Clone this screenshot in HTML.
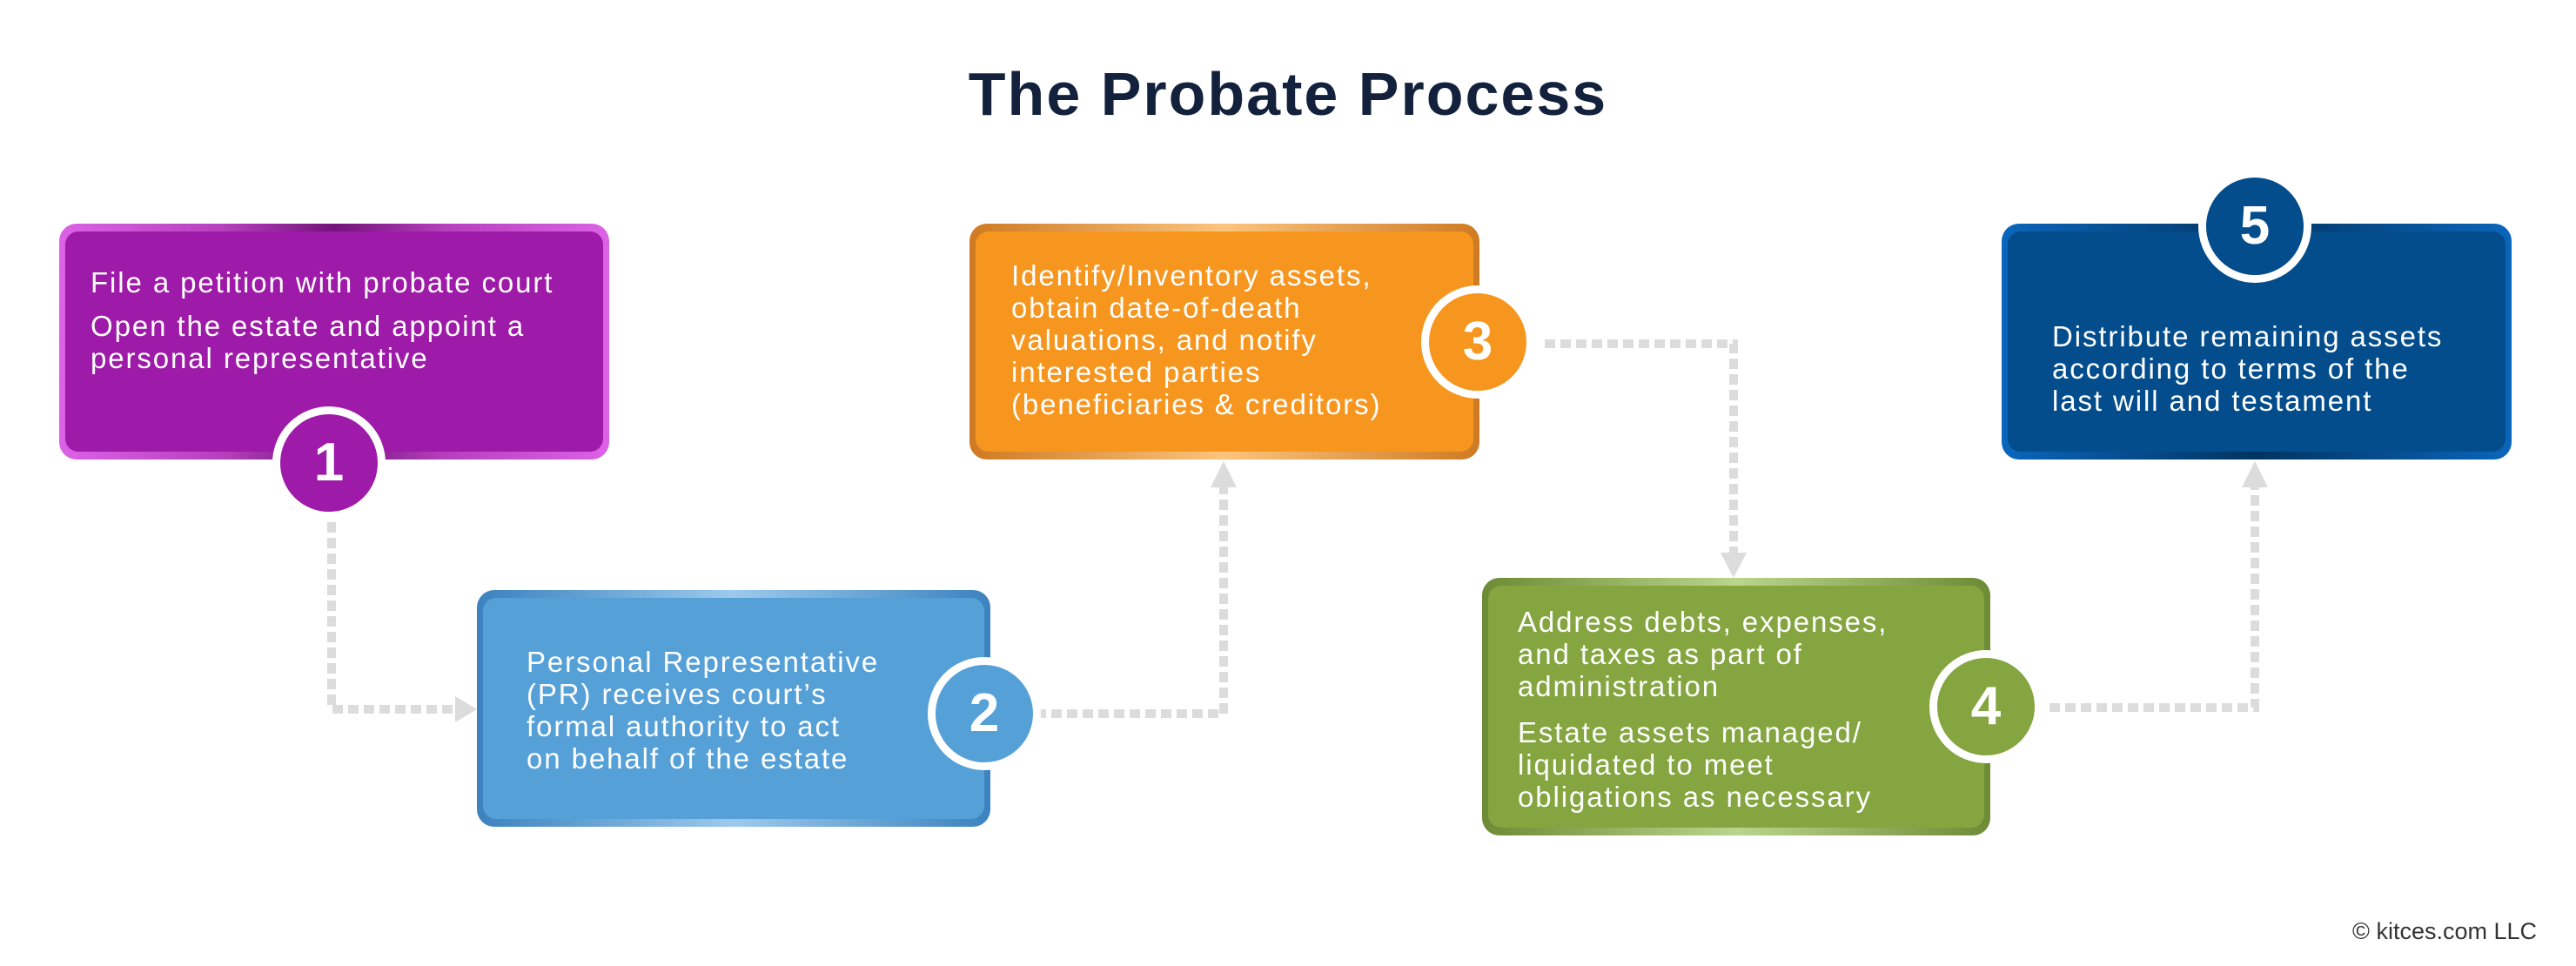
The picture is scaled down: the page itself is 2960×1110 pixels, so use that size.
<!DOCTYPE html>
<html><head><meta charset="utf-8"><style>
body{margin:0;width:2960px;height:1110px;background:#fff;position:relative;overflow:hidden;font-family:"Liberation Sans",sans-serif;}
.abs{position:absolute;}
.box{position:absolute;border-radius:20px;}
.inner{position:absolute;left:7px;right:7px;top:9px;bottom:9px;border-radius:15px;}
.t{position:absolute;color:#fff;font-size:33px;line-height:37px;letter-spacing:1.9px;white-space:nowrap;}
.c{position:absolute;width:112px;height:112px;border-radius:50%;border:9px solid #fff;color:#fff;font-weight:bold;font-size:62px;text-align:center;line-height:112px;}
</style></head><body>
<div class="abs" style="left:0;width:2960px;top:68px;text-align:center;font-size:70px;font-weight:bold;color:#13213c;letter-spacing:2px;">The Probate Process</div>

<svg class="abs" style="left:0;top:0" width="2960" height="1110">
<g stroke="#dcdcdc" stroke-width="10" fill="none" stroke-dasharray="12 6">
<path d="M381 600 V815 H525"/>
<path d="M1190 820 H1406 V560"/>
<path d="M1775 395 H1992 V635"/>
<path d="M2355 813 H2591 V560"/>
</g>
<g fill="#dcdcdc">
<polygon points="523,800 548,815 523,830"/>
<polygon points="1391,560 1421,560 1406,530"/>
<polygon points="1977,635 2007,635 1992,664"/>
<polygon points="2576,560 2606,560 2591,530"/>
</g>
</svg>

<div class="box" style="left:68px;top:257px;width:632px;height:271px;background:linear-gradient(90deg,#dc62e6,#b540bd 30%,#74117a 50%,#b540bd 70%,#dc62e6)">
<div class="inner" style="background:#9e1aa8"></div></div>
<div class="t" style="left:104px;top:306px;">File a petition with probate court</div>
<div class="t" style="left:104px;top:356px;">Open the estate and appoint a<br>personal representative</div>

<div class="box" style="left:548px;top:678px;width:590px;height:272px;background:linear-gradient(90deg,#3b82bf,#9ccaec 50%,#3b82bf)">
<div class="inner" style="background:#56a0d8"></div></div>
<div class="t" style="left:605px;top:742px;">Personal Representative<br>(PR) receives court’s<br>formal authority to act<br>on behalf of the estate</div>

<div class="box" style="left:1114px;top:257px;width:586px;height:271px;background:linear-gradient(90deg,#cf7a22,#fbc47e 50%,#cf7a22)">
<div class="inner" style="background:#f7961f"></div></div>
<div class="t" style="left:1162px;top:298px;">Identify/Inventory assets,<br>obtain date-of-death<br>valuations, and notify<br>interested parties<br>(beneficiaries &amp; creditors)</div>

<div class="box" style="left:1703px;top:664px;width:584px;height:296px;background:linear-gradient(90deg,#6d8b35,#bad58c 50%,#6d8b35)">
<div class="inner" style="background:#84a53f"></div></div>
<div class="t" style="left:1744px;top:696px;">Address debts, expenses,<br>and taxes as part of<br>administration</div>
<div class="t" style="left:1744px;top:823px;">Estate assets managed/<br>liquidated to meet<br>obligations as necessary</div>

<div class="box" style="left:2300px;top:257px;width:586px;height:271px;background:linear-gradient(90deg,#0a66bb,#023462 50%,#0a66bb)">
<div class="inner" style="background:#034d8c"></div></div>
<div class="t" style="left:2358px;top:368px;">Distribute remaining assets<br>according to terms of the<br>last will and testament</div>

<div class="c" style="left:313px;top:467px;background:#9e1aa8">1</div>
<div class="c" style="left:1066px;top:755px;background:#56a0d8">2</div>
<div class="c" style="left:1633px;top:328px;background:#f7961f">3</div>
<div class="c" style="left:2217px;top:747px;background:#84a53f">4</div>
<div class="c" style="left:2526px;top:195px;background:#034d8c">5</div>

<div class="abs" style="right:45px;top:1055px;font-size:27px;color:#333;">© kitces.com LLC</div>
</body></html>
